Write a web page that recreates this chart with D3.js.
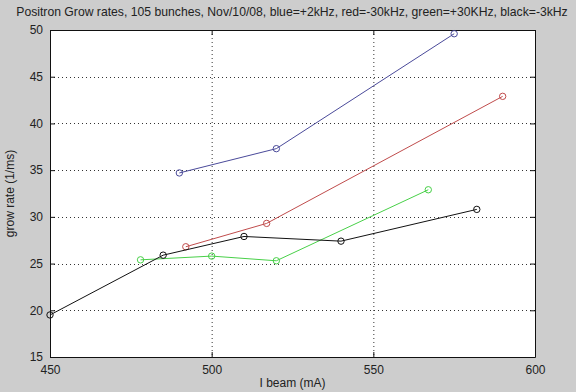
<!DOCTYPE html>
<html>
<head>
<meta charset="utf-8">
<script src="https://cdn.jsdelivr.net/npm/d3@7"></script>
<style>
  body { margin: 0; background: #cdcdcd; }
  svg { display: block; font-family: "Liberation Sans", Arial, sans-serif; }
</style>
</head>
<body>
<svg id="chart"></svg>
<script>
const title = 'Positron Grow rates, 105 bunches, Nov/10/08, blue=+2kHz, red=-30kHz, green=+30KHz, black=-3kHz';
const xLabel = 'I beam (mA)';
const yLabel = 'grow rate (1/ms)';
const xTicks = [450, 500, 550, 600];
const yTicks = [15, 20, 25, 30, 35, 40, 45, 50];

const blueX = [490, 520, 575];
const blueY = [34.7, 37.3, 49.6];
const redX = [492, 517, 590];
const redY = [26.8, 29.3, 42.9];
const greenX = [478, 500, 520, 567];
const greenY = [25.4, 25.8, 25.3, 32.9];
const blackX = [450, 485, 510, 540, 582];
const blackY = [19.5, 25.9, 27.9, 27.4, 30.8];

const series = [
  { name: 'blue', color: '#4a4a9a', x: blueX, y: blueY },
  { name: 'red', color: '#c04c4c', x: redX, y: redY },
  { name: 'green', color: '#48d048', x: greenX, y: greenY },
  { name: 'black', color: '#111111', x: blackX, y: blackY }
];

const width = 576, height = 392;
const margin = { top: 30, right: 41, bottom: 35, left: 50 };

const svg = d3.select('#chart')
  .attr('width', width)
  .attr('height', height);

svg.append('rect')
  .attr('width', width).attr('height', height)
  .attr('fill', '#cdcdcd');

const x = d3.scaleLinear().domain([450, 600]).range([margin.left, width - margin.right]);
const y = d3.scaleLinear().domain([15, 50]).range([height - margin.bottom, margin.top]);

// plot area
svg.append('rect')
  .attr('x', x(450)).attr('y', y(50))
  .attr('width', x(600) - x(450)).attr('height', y(15) - y(50))
  .attr('fill', '#fff');

// grid
const grid = svg.append('g').attr('stroke', '#333').attr('stroke-width', 1)
  .attr('stroke-dasharray', '1,3');
grid.selectAll('.vg').data(xTicks.slice(1, -1)).enter().append('line')
  .attr('x1', d => x(d) + 0.5).attr('x2', d => x(d) + 0.5)
  .attr('y1', y(50)).attr('y2', y(15));
grid.selectAll('.hg').data(yTicks.slice(1, -1)).enter().append('line')
  .attr('y1', d => Math.round(y(d)) + 0.5).attr('y2', d => Math.round(y(d)) + 0.5)
  .attr('x1', x(450)).attr('x2', x(600));

// axes
const xAxis = d3.axisBottom(x).tickValues(xTicks).tickSize(-5).tickSizeOuter(0).tickPadding(8);
const yAxis = d3.axisLeft(y).tickValues(yTicks).tickSize(-5).tickSizeOuter(0).tickPadding(7);

svg.append('g')
  .attr('transform', `translate(0,${y(15)})`)
  .call(xAxis);
svg.append('g')
  .attr('transform', `translate(${x(450)},0)`)
  .call(yAxis);
svg.append('g')
  .attr('transform', `translate(0,${y(50)})`)
  .call(d3.axisTop(x).tickValues(xTicks).tickSize(-5).tickSizeOuter(0).tickFormat(''));
svg.append('g')
  .attr('transform', `translate(${x(600)},0)`)
  .call(d3.axisRight(y).tickValues(yTicks).tickSize(-5).tickSizeOuter(0).tickFormat(''));

svg.selectAll('.domain').attr('stroke', '#111');
svg.selectAll('.tick line').attr('stroke', '#111');
svg.selectAll('.tick text').attr('font-size', 12).attr('fill', '#222')
  .attr('font-family', '"Liberation Sans", Arial, sans-serif');

// lines
const line = d3.line().x(d => x(d[0])).y(d => y(d[1]));
series.forEach(s => {
  const pts = s.x.map((v, i) => [v, s.y[i]]);
  svg.append('path')
    .datum(pts)
    .attr('d', line)
    .attr('fill', 'none')
    .attr('stroke', s.color)
    .attr('stroke-width', 1);
  svg.selectAll('.m-' + s.name).data(pts).enter().append('circle')
    .attr('cx', d => x(d[0])).attr('cy', d => y(d[1]))
    .attr('r', 3.2)
    .attr('fill', 'none')
    .attr('stroke', s.color)
    .attr('stroke-width', 1);
});

// title and labels
svg.append('text')
  .attr('x', 292).attr('y', 16)
  .attr('text-anchor', 'middle')
  .attr('font-size', 12.2)
  .attr('fill', '#222')
  .text(title);

svg.append('text')
  .attr('x', x(525)).attr('y', 387)
  .attr('text-anchor', 'middle')
  .attr('font-size', 12)
  .attr('fill', '#222')
  .text(xLabel);

svg.append('text')
  .attr('transform', `translate(14,${y(32.5)}) rotate(-90)`)
  .attr('text-anchor', 'middle')
  .attr('font-size', 12)
  .attr('fill', '#222')
  .text(yLabel);
</script>
</body>
</html>
